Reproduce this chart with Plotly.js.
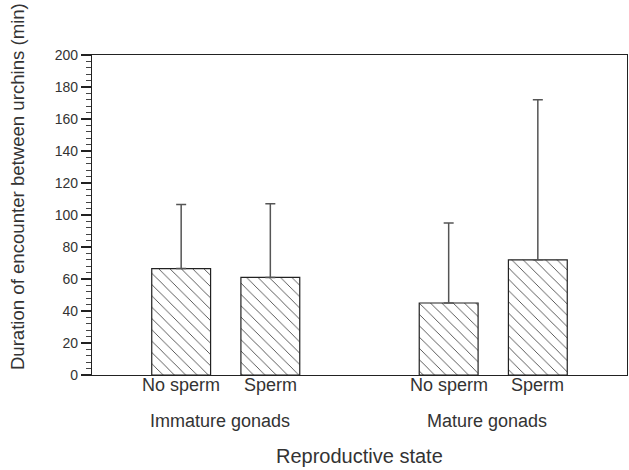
<!DOCTYPE html>
<html>
<head>
<meta charset="utf-8">
<script src="https://cdn.plot.ly/plotly-3.0.1.min.js"></script>
<style>html,body{margin:0;padding:0;background:#fff;}#chart{width:629px;height:470px;}</style>
</head>
<body>
<div id="chart"></div>
<script>
// Data
const categories = ["No sperm", "Sperm", "No sperm", "Sperm"];
const positions = [1, 2, 4, 5];
const groups = ["Immature gonads", "Mature gonads"];
const groupCenters = [1.5, 4.5];
const means = [66.5, 61, 45, 72];
const upperSD = [40, 46, 50, 100];
const yTickVals = [0, 20, 40, 60, 80, 100, 120, 140, 160, 180, 200];

const FONT = "Liberation Sans, Arial, Helvetica, sans-serif";
const TXT = "#333333";

const trace = {
  type: "bar",
  x: positions,
  y: means,
  width: 0.66,
  marker: {
    color: "#ffffff",
    line: {color: "#222222", width: 1.2},
    pattern: {shape: "\\", size: 8, solidity: 0.1, fgcolor: "#333333", bgcolor: "#ffffff"}
  },
  error_y: {
    type: "data",
    symmetric: false,
    array: upperSD,
    arrayminus: upperSD.map(() => 0),
    color: "#555555",
    thickness: 1.5,
    width: 5
  },
  hoverinfo: "skip"
};

const annotations = categories.map((c, i) => ({
  text: c, x: positions[i], xref: "x", y: -0.031, yref: "paper",
  xanchor: "center", yanchor: "middle", showarrow: false,
  font: {family: FONT, size: 18, color: TXT}
}));
groups.forEach((g, i) => annotations.push({
  text: g, x: groupCenters[i], xref: "x", y: -0.144, yref: "paper",
  xanchor: "center", yanchor: "middle", showarrow: false, xshift: -6,
  font: {family: FONT, size: 18, color: TXT}
}));
annotations.push({
  text: "Reproductive state", x: 0.5, xref: "paper", y: -0.253, yref: "paper",
  xanchor: "center", yanchor: "middle", showarrow: false,
  font: {family: FONT, size: 20, color: TXT}
});
annotations.push({
  text: "Duration of encounter between urchins (min)", x: -0.14, xref: "paper",
  y: 0.5875, yref: "paper", xanchor: "center", yanchor: "middle", textangle: -90,
  showarrow: false, font: {family: FONT, size: 18.6, color: TXT}
});

const layout = {
  width: 629, height: 470,
  margin: {l: 92, r: 2, t: 55, b: 95},
  paper_bgcolor: "#ffffff", plot_bgcolor: "#ffffff",
  showlegend: false,
  font: {family: FONT, color: TXT},
  xaxis: {
    range: [0, 6], tickvals: positions, showticklabels: false,
    ticks: "", showgrid: false, zeroline: false,
    showline: true, linecolor: "#222222", linewidth: 1.2, mirror: true
  },
  yaxis: {
    range: [0, 200], tickvals: yTickVals,
    ticks: "outside", ticklen: 10, tickwidth: 1.2, tickcolor: "#222222",
    minor: {dtick: 4, ticks: "outside", ticklen: 5, tickwidth: 1, tickcolor: "#444444", showgrid: false},
    showgrid: false, zeroline: false,
    showline: true, linecolor: "#222222", linewidth: 1.2, mirror: true,
    tickfont: {family: FONT, size: 14, color: TXT}
  },
  annotations: annotations
};

Plotly.newPlot("chart", [trace], layout, {displayModeBar: false, staticPlot: true});
</script>
</body>
</html>
